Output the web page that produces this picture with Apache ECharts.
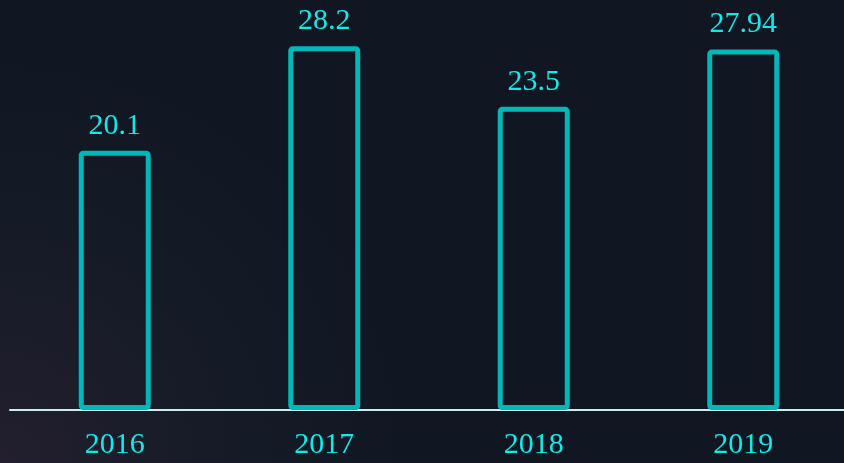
<!DOCTYPE html>
<html>
<head>
  <meta charset="utf-8">
  <title>chart</title>
  <script src="https://cdn.jsdelivr.net/npm/echarts@6/dist/echarts.min.js"></script>
  <style>
    html, body { margin: 0; padding: 0; }
    #main { width: 844px; height: 463px; }
  </style>
</head>
<body>
  <div id="main"></div>
  <script type="text/javascript">
    var years = ['2016', '2017', '2018', '2019'];
    var values = [20.1, 28.2, 23.5, 27.94];

    var myChart = echarts.init(document.getElementById('main'));
    var option = {
      backgroundColor: {
        type: 'radial', x: 0, y: 1, r: 0.9,
        colorStops: [
          { offset: 0, color: '#231f2e' },
          { offset: 0.6, color: '#141a26' },
          { offset: 1, color: '#101722' }
        ]
      },
      grid: { left: 10, width: 838, top: 23, bottom: 53, outerBoundsMode: 'none' },
      xAxis: {
        type: 'category',
        data: years,
        axisLine: { lineStyle: { color: '#c8eef0', width: 2 } },
        axisTick: { show: false },
        axisLabel: {
          color: '#10eaea',
          fontSize: 30,
          fontFamily: 'Liberation Serif',
          margin: 20
        }
      },
      yAxis: {
        type: 'value',
        min: 0,
        max: 30,
        show: false,
        splitLine: { show: false }
      },
      series: [{
        type: 'bar',
        data: values,
        barWidth: 72,
        itemStyle: {
          color: 'transparent',
          borderColor: '#00b8b8',
          borderWidth: 5,
          borderRadius: 2
        },
        label: {
          show: true,
          position: 'top',
          distance: 10,
          color: '#10eaea',
          fontSize: 30,
          fontFamily: 'Liberation Serif'
        }
      }]
    };
    myChart.setOption(option);
  </script>
</body>
</html>
